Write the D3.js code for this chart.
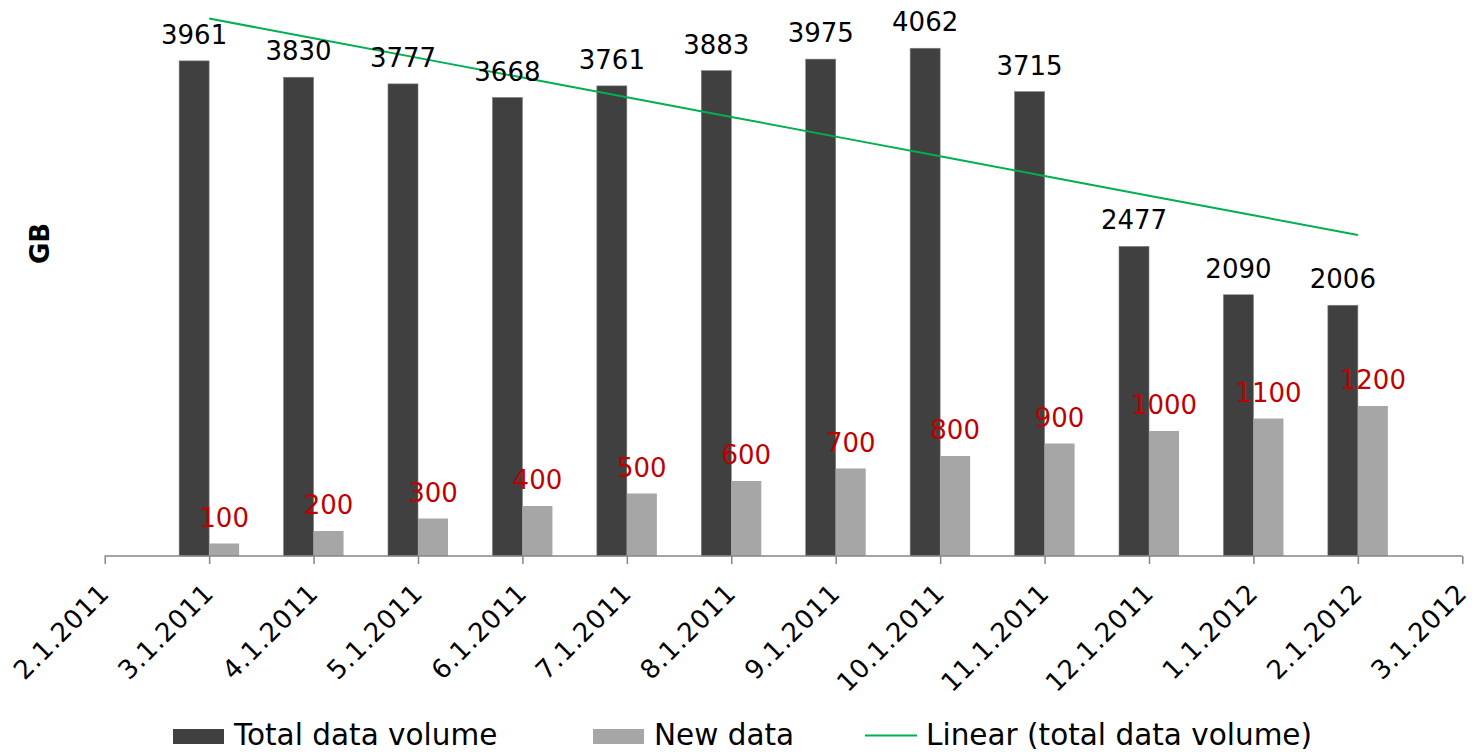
<!DOCTYPE html>
<html>
<head>
<meta charset="utf-8">
<script src="https://cdn.jsdelivr.net/npm/d3@7"></script>
<style>
  html, body { margin: 0; padding: 0; background: #fff; }
  svg { display: block; font-family: "DejaVu Sans", Verdana, sans-serif; }
</style>
</head>
<body>
<svg id="chart" width="1472" height="752"></svg>
<script>
// Monthly snapshot dates on the category axis
const dates = ["2.1.2011", "3.1.2011", "4.1.2011", "5.1.2011", "6.1.2011", "7.1.2011",
               "8.1.2011", "9.1.2011", "10.1.2011", "11.1.2011", "12.1.2011", "1.1.2012",
               "2.1.2012", "3.1.2012"];
// Dates that carry data
const months = ["3.1.2011", "4.1.2011", "5.1.2011", "6.1.2011", "7.1.2011", "8.1.2011",
                "9.1.2011", "10.1.2011", "11.1.2011", "12.1.2011", "1.1.2012", "2.1.2012"];
const totalVolume = [3961, 3830, 3777, 3668, 3761, 3883, 3975, 4062, 3715, 2477, 2090, 2006];
const newData = [100, 200, 300, 400, 500, 600, 700, 800, 900, 1000, 1100, 1200];
const yMax = 4448;

const legendItems = [
  { label: "Total data volume", type: "rect", color: "#404040" },
  { label: "New data", type: "rect", color: "#A6A6A6" },
  { label: "Linear (total data volume)", type: "line", color: "#00B050" }
];

const svg = d3.select("#chart");
const baseY = 556;

const x = d3.scalePoint().domain(dates).range([104.7, 1462.3]);
const y = d3.scaleLinear().domain([0, yMax]).range([baseY, 0]);
const barW = 30;

// Total data volume bars (left of each tick)
svg.append("g").selectAll("rect")
  .data(months.map((m, i) => ({ m, v: totalVolume[i] })))
  .join("rect")
  .attr("x", d => x(d.m) - barW)
  .attr("y", d => y(d.v))
  .attr("width", barW)
  .attr("height", d => baseY - y(d.v))
  .attr("fill", "#404040")
  .attr("stroke", "#7f7f7f")
  .attr("stroke-width", 0.6);

// New data bars (right of each tick)
svg.append("g").selectAll("rect")
  .data(months.map((m, i) => ({ m, v: newData[i] })))
  .join("rect")
  .attr("x", d => x(d.m))
  .attr("y", d => y(d.v))
  .attr("width", barW)
  .attr("height", d => baseY - y(d.v))
  .attr("fill", "#A6A6A6");

// Least-squares trend line over the total volume series
const n = totalVolume.length;
const xs = d3.range(1, n + 1);
const mx = d3.mean(xs), my = d3.mean(totalVolume);
const slope = d3.sum(xs, (xi, i) => (xi - mx) * (totalVolume[i] - my)) / d3.sum(xs, xi => (xi - mx) ** 2);
const intercept = my - slope * mx;
const trend = months.map((m, i) => ({ m, v: intercept + slope * xs[i] }));

svg.append("path")
  .datum(trend)
  .attr("fill", "none")
  .attr("stroke", "#00B050")
  .attr("stroke-width", 2)
  .attr("d", d3.line().x(d => x(d.m)).y(d => y(d.v)));

// Value labels
svg.append("g").selectAll("text")
  .data(months.map((m, i) => ({ m, v: totalVolume[i] })))
  .join("text")
  .attr("x", d => x(d.m) - barW / 2)
  .attr("y", d => y(d.v) - 17)
  .attr("text-anchor", "middle")
  .attr("font-size", 26)
  .attr("fill", "#000")
  .text(d => d.v);

svg.append("g").selectAll("text")
  .data(months.map((m, i) => ({ m, v: newData[i] })))
  .join("text")
  .attr("x", d => x(d.m) + barW / 2)
  .attr("y", d => y(d.v) - 17)
  .attr("text-anchor", "middle")
  .attr("font-size", 26)
  .attr("fill", "#C00000")
  .text(d => d.v);

// Category axis
const axis = svg.append("g").attr("transform", `translate(0,${baseY})`)
  .call(d3.axisBottom(x).tickSize(8).tickSizeOuter(0).tickPadding(0));
axis.select(".domain").attr("stroke", "#868686").attr("stroke-width", 1.5)
  .attr("d", `M${x.range()[0]},0H${x.range()[1]}`);
axis.selectAll(".tick line").attr("stroke", "#868686").attr("stroke-width", 1.5);
axis.selectAll(".tick text")
  .attr("font-size", 26)
  .attr("letter-spacing", 0.8)
  .attr("font-family", "DejaVu Sans, Verdana, sans-serif")
  .attr("fill", "#000")
  .attr("text-anchor", "end")
  .attr("dy", 0)
  .attr("transform", "translate(0,33) rotate(-45)");

// Axis title
svg.append("text")
  .attr("transform", "translate(49,243.5) rotate(-90)")
  .attr("text-anchor", "middle")
  .attr("font-size", 26)
  .attr("font-weight", "bold")
  .text("GB");

// Legend
const legendX = [173, 593, 865];
const lg = svg.append("g");
legendItems.forEach((item, i) => {
  const g = lg.append("g").attr("transform", `translate(${legendX[i]},0)`);
  if (item.type === "rect") {
    g.append("rect").attr("x", 0).attr("y", 729).attr("width", 51).attr("height", 15).attr("fill", item.color);
  } else {
    g.append("line").attr("x1", 0).attr("x2", 52).attr("y1", 735.5).attr("y2", 735.5)
      .attr("stroke", item.color).attr("stroke-width", 2);
  }
  g.append("text").attr("x", 61).attr("y", 745).attr("font-size", 29.5).attr("fill", "#000").text(item.label);
});
</script>
</body>
</html>
